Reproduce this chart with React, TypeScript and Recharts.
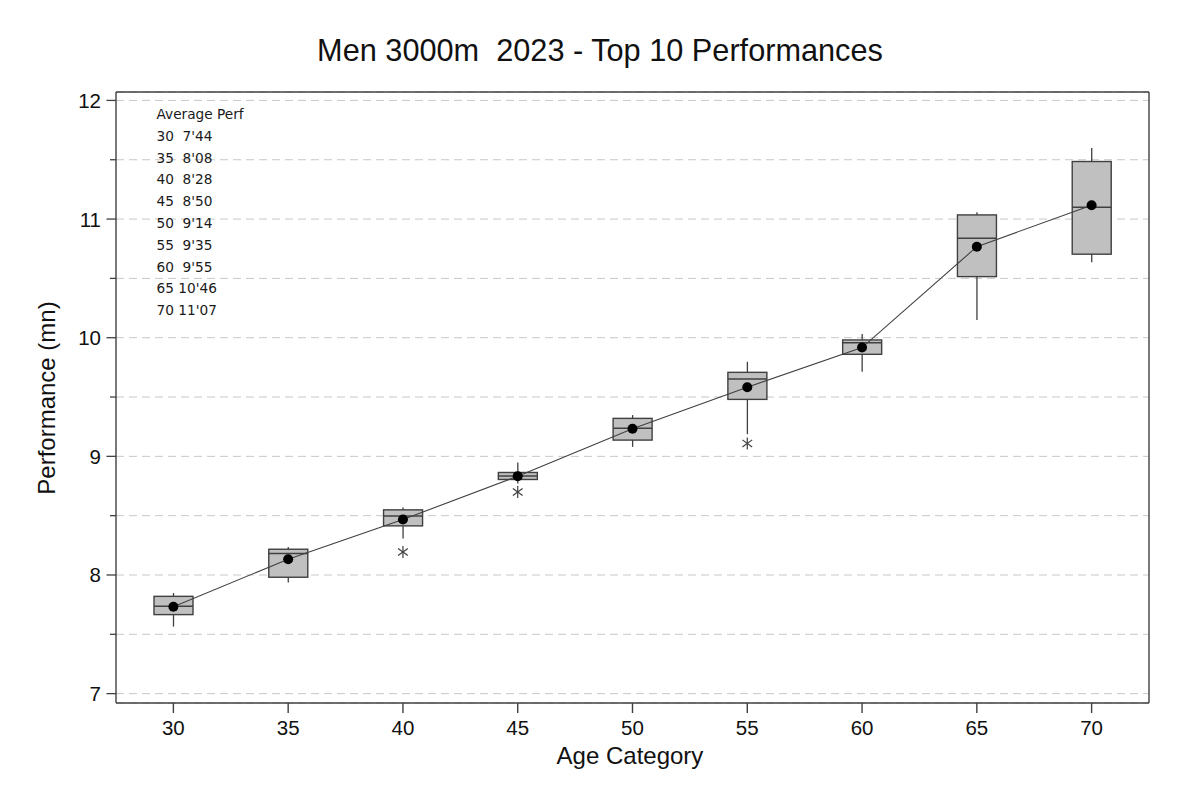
import React from 'react';
import { ComposedChart, Bar, Line, XAxis, YAxis, CartesianGrid } from 'recharts';

// age categories and box statistics (minutes)
const ages = [30, 35, 40, 45, 50, 55, 60, 65, 70];
const whiskerLow = [7.565, 7.936, 8.307, 8.771, 9.08, 9.187, 9.713, 10.149, 10.636];
const q1 = [7.666, 7.981, 8.414, 8.805, 9.137, 9.48, 9.86, 10.515, 10.704];
const median = [7.736, 8.181, 8.498, 8.835, 9.236, 9.651, 9.958, 10.839, 11.1];
const q3 = [7.82, 8.217, 8.549, 8.864, 9.32, 9.708, 9.981, 11.035, 11.485];
const whiskerHigh = [7.848, 8.236, 8.569, 8.949, 9.348, 9.797, 10.031, 11.058, 11.598];
const mean = [7.733, 8.133, 8.467, 8.833, 9.233, 9.583, 9.917, 10.767, 11.117];
const outliers: (number | null)[] = [null, null, 8.194, 8.7, null, 9.109, null, null, null];

const averagePerf = ["30  7'44", "35  8'08", "40  8'28", "45  8'50", "50  9'14", "55  9'35", "60  9'55", "65 10'46", "70 11'07"];
const yTicks = [7, 7.5, 8, 8.5, 9, 9.5, 10, 10.5, 11, 11.5, 12];

const data = ages.map((age, i) => ({
  age: String(age),
  range: [whiskerLow[i], whiskerHigh[i]],
  lo: whiskerLow[i],
  hi: whiskerHigh[i],
  q1: q1[i],
  median: median[i],
  q3: q3[i],
  mean: mean[i],
  outlier: outliers[i],
}));

const EDGE = '#404040';
const FONT = '"Liberation Sans", Arial, sans-serif';

const BoxShape = (props: any) => {
  const { x, y, width, height, payload } = props;
  const top = Math.min(y, y + height);
  const h = Math.abs(height);
  const toY = (v: number) => top + (h * (payload.hi - v)) / (payload.hi - payload.lo);
  const cx = x + width / 2;
  const bTop = toY(payload.q3);
  const bBot = toY(payload.q1);
  const med = toY(payload.median);
  return (
    <g>
      <line x1={cx} x2={cx} y1={top} y2={top + h} stroke={EDGE} strokeWidth={1.3} />
      <rect x={x} y={bTop} width={width} height={bBot - bTop} fill="#c0c0c0" stroke={EDGE} strokeWidth={1.4} />
      <line x1={x} x2={x + width} y1={med} y2={med} stroke={EDGE} strokeWidth={1.5} />
    </g>
  );
};

const Asterisk = (props: any) => {
  const { cx, cy, payload, index } = props;
  if (payload == null || payload.outlier == null || cy == null) return <g key={index} />;
  const r = 6;
  const dx = r * Math.cos(Math.PI / 5);
  const dy = r * Math.sin(Math.PI / 5);
  return (
    <g key={index} stroke={EDGE} strokeWidth={1.2}>
      <line x1={cx} x2={cx} y1={cy - r} y2={cy + r} />
      <line x1={cx - dx} x2={cx + dx} y1={cy - dy} y2={cy + dy} />
      <line x1={cx - dx} x2={cx + dx} y1={cy + dy} y2={cy - dy} />
    </g>
  );
};

const YTick = (props: any) => {
  const { x, y, payload } = props;
  const major = Number.isInteger(payload.value);
  return (
    <g>
      <line x1={x} x2={x - (major ? 9.5 : 6)} y1={y} y2={y} stroke={EDGE} strokeWidth={1.3} />
      {major && (
        <text x={x - 15} y={y} textAnchor="end" dominantBaseline="central" fontSize={20.5} fill="#111" fontFamily={FONT}>
          {payload.value}
        </text>
      )}
    </g>
  );
};

export default function App() {
  return (
    <div style={{ position: 'absolute', left: 0, top: 0, width: 1200, height: 799, background: '#fff', fontFamily: FONT }}>
      <div style={{ position: 'absolute', left: 0, width: 1200, top: 33, textAlign: 'center', fontSize: 30.7, whiteSpace: 'pre', color: '#111' }}>
        {'Men 3000m  2023 - Top 10 Performances'}
      </div>
      <ComposedChart width={1200} height={799} data={data} margin={{ top: 91, right: 50, bottom: 36, left: 0 }}>
        <CartesianGrid vertical={false} stroke="#c8c8c8" strokeDasharray="8 5" />
        <XAxis
          dataKey="age"
          height={60}
          stroke={EDGE}
          strokeWidth={1.4}
          tickSize={10}
          tickMargin={7}
          tick={{ fontSize: 20.5, fill: '#111', fontFamily: FONT }}
        />
        <XAxis xAxisId="top" dataKey="age" orientation="top" height={1} tick={false} tickLine={false} stroke={EDGE} strokeWidth={1.4} />
        <YAxis
          type="number"
          domain={[6.921, 12.071]}
          ticks={yTicks}
          width={116}
          interval={0}
          stroke={EDGE}
          strokeWidth={1.4}
          tickSize={0}
          tickMargin={0}
          tickLine={false}
          tick={<YTick />}
        />
        <YAxis yAxisId="right" orientation="right" type="number" domain={[6.921, 12.071]} width={1} tick={false} tickLine={false} stroke={EDGE} strokeWidth={1.4} />
        <Bar dataKey="range" barSize={39} shape={<BoxShape />} isAnimationActive={false} />
        <Line dataKey="mean" stroke={EDGE} strokeWidth={1.1} dot={{ r: 5, fill: '#000', stroke: '#000', strokeWidth: 0 }} activeDot={false} isAnimationActive={false} />
        <Line dataKey="outlier" stroke="none" dot={Asterisk} activeDot={false} isAnimationActive={false} />
      </ComposedChart>
      <div style={{ position: 'absolute', left: 156.5, top: 104, fontFamily: '"DejaVu Sans", sans-serif', fontSize: 13.7, lineHeight: '21.8px', color: '#1a1a1a', whiteSpace: 'pre' }}>
        <div>Average Perf</div>
        {averagePerf.map((s) => (
          <div key={s}>{s}</div>
        ))}
      </div>
      <div style={{ position: 'absolute', left: 0, width: 1200, top: 742, paddingLeft: 60, boxSizing: 'border-box', textAlign: 'center', fontSize: 24, color: '#111' }}>
        Age Category
      </div>
      <div
        style={{
          position: 'absolute',
          left: 47,
          top: 398,
          transform: 'translate(-50%, -50%) rotate(-90deg)',
          fontSize: 24,
          whiteSpace: 'nowrap',
          color: '#111',
        }}
      >
        Performance (mn)
      </div>
    </div>
  );
}
